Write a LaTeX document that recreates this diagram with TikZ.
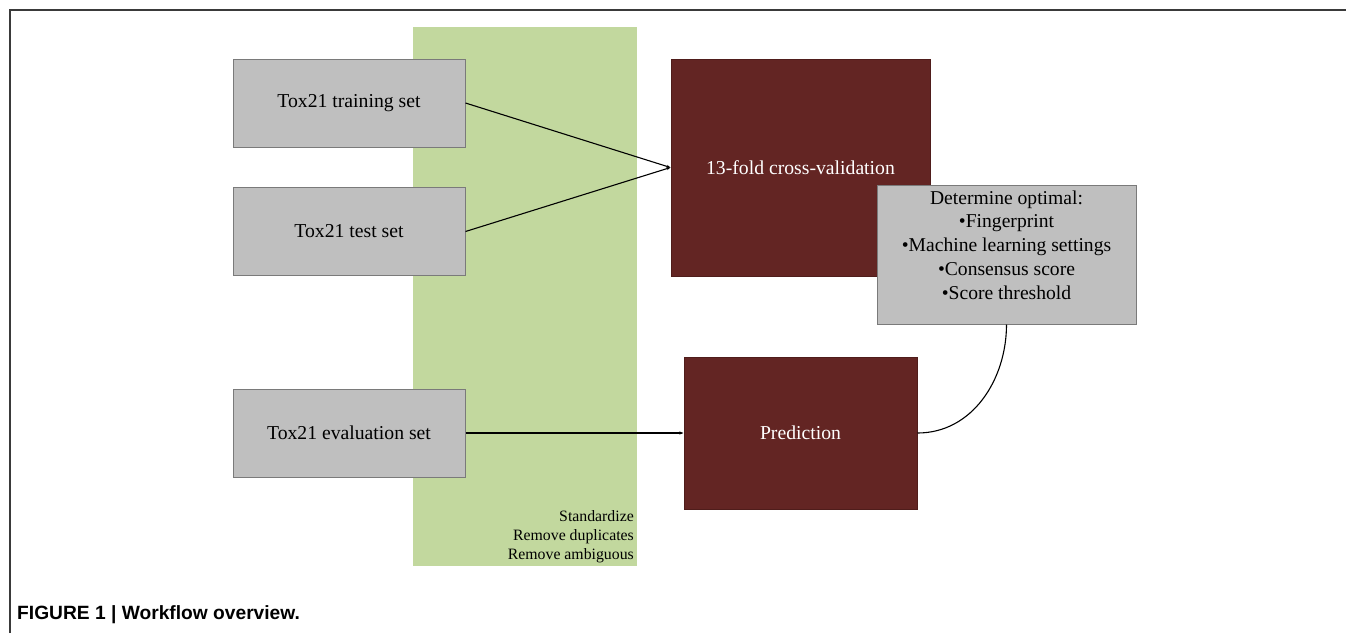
\documentclass[tikz,border=0pt]{standalone}
\usepackage{fontspec}
\setmainfont{Liberation Serif}
\newfontfamily\captionfont{Liberation Sans}
\usetikzlibrary{arrows.meta}
\tikzset{
  setbox/.style={draw=boxborder, fill=boxgray, line width=1pt, minimum width=232pt, minimum height=88pt, font=\fontsize{19.7}{23}\selectfont},
  stagebox/.style={draw=stageborder, fill=stagered, text=white, line width=1pt, font=\fontsize{19.7}{23}\selectfont},
  flow/.style={line width=1.1pt, -{Stealth[length=4pt,width=3pt]}}
}
\begin{document}
\begin{tikzpicture}[x=1pt, y=-1pt]
\definecolor{boxgray}{HTML}{BFBFBF}
\definecolor{boxborder}{HTML}{7A7A7A}
\definecolor{stagered}{HTML}{632523}
\definecolor{stageborder}{HTML}{4F1D1B}
\definecolor{cleangreen}{HTML}{C2D89E}
\definecolor{framegray}{HTML}{3A3A3A}
\useasboundingbox (0,0) rectangle (1346,633);
% frame and caption
\draw[framegray, line width=1.5pt] (10,633) -- (10,10) -- (1346,10);
\node[anchor=base west, inner sep=0pt, font=\captionfont\bfseries\fontsize{19.2}{22}\selectfont] (caption) at (17,619) {FIGURE 1 | Workflow overview.};
% curation band
\fill[cleangreen] (413,27) rectangle (637,566);
\node[anchor=south east, align=right, inner sep=0pt, font=\fontsize{15.8}{19}\selectfont] (curation) at (634,563) {Standardize\\Remove duplicates\\Remove ambiguous};
% data sets
\node[setbox] (training) at (349,103) {Tox21 training set};
\node[setbox] (test) at (349,231.5) {Tox21 test set};
\node[setbox] (evaluation) at (349,433) {Tox21 evaluation set};
% stages
\node[stagebox, minimum width=259pt, minimum height=217pt] (crossval) at (800.5,167.5) {13-fold cross-validation};
\node[setbox, minimum width=259pt, minimum height=139pt, align=center, font=\fontsize{19.6}{24}\selectfont] (optimal) at (1006.5,254.5) {Determine optimal:\\[-1pt]•Fingerprint\\•Machine learning settings\\•Consensus score\\•Score threshold\\[-6pt]};
\node[stagebox, minimum width=233pt, minimum height=152pt] (prediction) at (800.5,433) {Prediction};
% connectors
\draw[flow] (training.east) -- (crossval.west);
\draw[flow] (test.east) -- (crossval.west);
\draw[flow] (evaluation.east) -- (prediction.west);
\draw[line width=1.1pt] (optimal.south) to[out=-90, in=0] (prediction.east);
\end{tikzpicture}
\end{document}
